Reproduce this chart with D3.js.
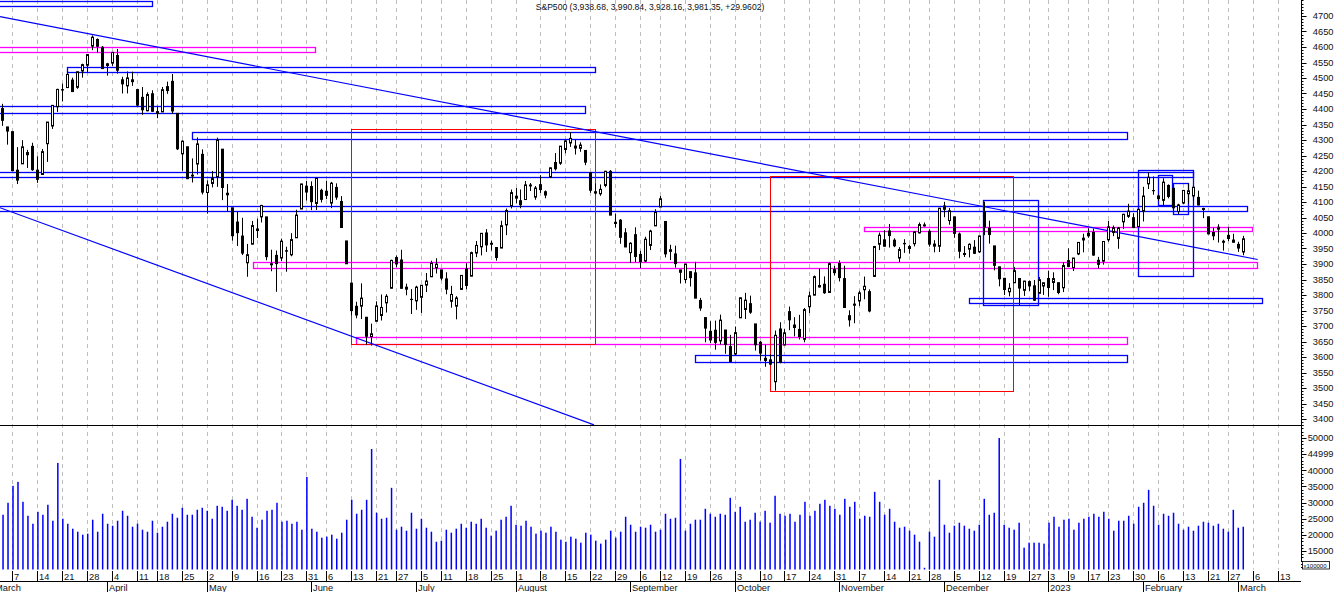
<!DOCTYPE html>
<html>
<head>
<meta charset="utf-8">
<script src="https://cdn.jsdelivr.net/npm/d3@7"></script>
<style>
body { margin: 0; background: #fff; }
svg { display: block; font-family: "Liberation Sans", Arial, sans-serif; }
</style>
</head>
<body>
<div id="container"></div>
<script>
// daily bars, 2022-03-03 .. 2023-03-02 (one per trading day, as on the chart)
const opens = [
  4401.31, 4342.12,
  4327.01, 4202.66, 4223.10, 4252.55, 4279.50,
  4202.75, 4188.82, 4288.14, 4345.11, 4407.34,
  4462.40, 4469.10, 4493.10, 4469.98, 4522.66,
  4541.09, 4602.86, 4624.20, 4599.02, 4540.32,
  4547.97, 4572.45, 4494.17, 4474.65, 4494.15,
  4462.64, 4437.59, 4394.30, 4449.12,
  4385.63, 4390.63, 4472.26, 4489.17, 4385.83,
  4255.34, 4278.14, 4186.52, 4222.58, 4253.75,
  4130.61, 4159.78, 4181.18, 4270.43, 4128.17,
  4081.27, 4035.18, 3990.08, 3903.95, 3963.90,
  4013.02, 4052.00, 4051.98, 3899.00, 3927.76,
  3919.42, 3942.94, 3929.59, 3984.60, 4077.43,
  4151.09, 4149.78, 4095.41, 4137.57,
  4134.72, 4096.47, 4147.12, 4101.65, 3974.39,
  3838.15, 3763.52, 3764.05, 3728.18, 3665.90,
  3715.31, 3733.89, 3774.71, 3821.75,
  3920.76, 3913.00, 3825.09, 3785.99, 3781.00,
  3792.61, 3831.98, 3858.85, 3888.26,
  3880.94, 3851.95, 3779.67, 3763.99, 3818.00,
  3883.79, 3860.73, 3935.32, 3955.47, 4000.20,
  3965.72, 3953.22, 3951.43, 4026.13, 4087.33,
  4112.38, 4104.21, 4107.96, 4154.85, 4115.87,
  4155.93, 4133.11, 4181.02, 4227.40, 4225.02,
  4269.37, 4290.46, 4280.40, 4273.13, 4266.31,
  4195.08, 4133.09, 4126.55, 4153.26, 4198.74,
  4034.58, 4041.25, 4000.67, 3936.73, 3994.66,
  3930.89, 3909.43, 3959.94, 4022.94,
  4083.67, 4037.12, 3940.73, 3932.41, 3880.95,
  3849.91, 3875.23, 3871.40, 3782.36, 3727.14,
  3682.72, 3686.44, 3651.94, 3687.01, 3633.48,
  3609.78, 3726.46, 3753.25, 3771.97, 3706.74,
  3647.51, 3595.86, 3590.83, 3520.37, 3690.41,
  3638.65, 3746.26, 3703.11, 3689.05, 3657.10,
  3762.01, 3799.44, 3825.97, 3834.69, 3808.26,
  3881.85, 3901.79, 3852.90, 3733.25, 3766.98,
  3780.71, 3817.02, 3810.94, 3859.89, 3963.72,
  3977.97, 4006.41, 3976.82, 3919.26, 3966.39,
  3956.23, 3965.51, 4000.30, 4023.34,
  4005.36, 3964.19, 3957.18, 4087.14, 4040.17,
  4052.02, 3996.63, 3933.28, 3947.79, 3954.17,
  3939.29, 4069.38, 4015.54, 3958.37, 3890.91,
  3853.79, 3810.47, 3839.49, 3853.26, 3815.11,
  3843.34, 3829.56, 3805.45, 3829.06,
  3853.29, 3840.36, 3839.74, 3823.37,
  3910.82, 3888.57, 3932.35, 3977.57,
  3999.28, 4002.25, 3911.84, 3909.04,
  3978.14, 4001.74, 3982.71, 4036.08, 4053.72,
  4049.27, 4020.85, 4070.07, 4158.68, 4136.69,
  4119.57, 4105.35, 4153.47, 4144.25, 4068.92,
  4096.62, 4126.70, 4119.50, 4114.75, 4077.39,
  4052.35, 4001.83, 4018.60, 3973.24,
  3992.36, 3977.19, 3963.34, 3938.68
];
const highs = [
  4416.78, 4342.12,
  4327.01, 4276.94, 4299.40, 4268.28, 4291.01,
  4247.57, 4271.05, 4357.86, 4412.67, 4465.40,
  4481.75, 4522.00, 4501.07, 4520.58, 4546.03,
  4575.65, 4637.30, 4627.77, 4603.07, 4548.70,
  4583.50, 4593.45, 4503.94, 4521.16, 4520.41,
  4464.35, 4471.00, 4453.92, 4460.46,
  4410.31, 4471.03, 4488.29, 4512.94, 4385.83,
  4299.02, 4278.14, 4240.71, 4308.45, 4269.68,
  4169.81, 4200.10, 4307.66, 4270.43, 4157.69,
  4081.27, 4068.82, 4049.09, 3964.80, 4038.88,
  4046.46, 4090.72, 4051.98, 3945.96, 3943.42,
  3981.88, 3955.68, 3999.33, 4075.14, 4158.49,
  4168.34, 4166.54, 4177.51, 4142.67,
  4168.78, 4164.86, 4160.14, 4119.10, 3974.39,
  3838.15, 3778.18, 3837.56, 3728.18, 3707.71,
  3779.65, 3801.79, 3802.58, 3913.65,
  3927.72, 3945.86, 3836.50, 3818.99, 3829.82,
  3832.19, 3870.91, 3910.63, 3918.50,
  3880.94, 3873.41, 3829.44, 3796.41, 3863.62,
  3902.44, 3939.81, 3974.13, 3999.29, 4012.44,
  3975.30, 3953.22, 4039.56, 4078.95, 4140.15,
  4144.95, 4140.47, 4167.66, 4161.29, 4151.58,
  4186.62, 4137.30, 4211.03, 4257.91, 4280.47,
  4301.79, 4325.28, 4302.18, 4292.53, 4266.31,
  4195.08, 4159.77, 4156.56, 4200.54, 4203.04,
  4062.99, 4044.98, 4015.37, 3970.23, 4018.43,
  3942.55, 3987.89, 4010.50, 4076.81,
  4119.28, 4037.12, 3961.94, 3959.14, 3880.95,
  3900.45, 3876.01, 3907.07, 3790.78, 3727.14,
  3715.67, 3717.53, 3736.74, 3687.01, 3671.44,
  3698.35, 3791.92, 3806.91, 3797.93, 3706.74,
  3652.17, 3640.66, 3608.34, 3685.41, 3712.00,
  3689.73, 3762.79, 3728.58, 3736.00, 3757.89,
  3810.74, 3862.85, 3886.15, 3859.95, 3905.42,
  3893.73, 3911.79, 3894.44, 3750.59, 3796.34,
  3813.95, 3859.40, 3818.20, 3958.33, 4001.48,
  4008.97, 4028.84, 3983.09, 3954.33, 3979.89,
  3962.00, 4005.88, 4033.78, 4034.02,
  4012.27, 3976.77, 4080.11, 4100.51, 4080.48,
  4052.45, 4001.51, 3957.57, 3966.65, 3977.02,
  3990.71, 4100.96, 4039.84, 3958.37, 3890.91,
  3854.86, 3838.24, 3889.82, 3853.26, 3845.80,
  3846.65, 3848.32, 3858.19, 3839.85,
  3878.46, 3873.16, 3839.74, 3906.19,
  3950.57, 3919.83, 3970.07, 3997.76,
  4015.39, 4014.16, 3922.94, 3972.96,
  4039.31, 4023.92, 4019.55, 4061.57, 4094.21,
  4063.85, 4077.16, 4148.95, 4195.44, 4182.36,
  4124.63, 4176.54, 4156.85, 4156.23, 4094.36,
  4138.90, 4159.77, 4148.11, 4136.54, 4081.51,
  4052.35, 4017.37, 4028.30, 3978.25,
  4018.05, 3997.50, 3971.73, 3990.84
];
const lows = [
  4345.56, 4284.98,
  4199.85, 4157.87, 4223.10, 4209.80, 4200.49,
  4161.72, 4187.90, 4229.34, 4335.65, 4390.57,
  4424.30, 4469.10, 4455.81, 4465.17, 4501.07,
  4517.69, 4589.66, 4581.32, 4530.41, 4507.57,
  4539.21, 4514.17, 4450.04, 4450.30, 4474.60,
  4408.38, 4381.34, 4392.70, 4390.77,
  4370.30, 4390.63, 4448.76, 4384.47, 4267.62,
  4200.82, 4175.04, 4162.90, 4188.63, 4124.28,
  4062.51, 4147.08, 4148.91, 4106.01, 4067.91,
  3975.48, 3958.17, 3928.82, 3858.87, 3963.90,
  3983.99, 4033.93, 3911.91, 3876.58, 3810.32,
  3909.04, 3875.13, 3925.03, 3984.60, 4077.43,
  4104.88, 4073.85, 4074.37, 4098.67,
  4109.18, 4080.19, 4107.20, 4017.17, 3900.16,
  3734.30, 3724.87, 3722.30, 3639.77, 3636.87,
  3715.31, 3717.69, 3743.52, 3821.75,
  3889.66, 3820.14, 3799.02, 3738.67, 3752.10,
  3742.06, 3809.37, 3858.85, 3869.34,
  3847.22, 3802.36, 3759.07, 3721.56, 3817.18,
  3818.63, 3860.73, 3922.03, 3927.64, 3938.85,
  3943.46, 3910.74, 3951.43, 3992.97, 4079.22,
  4096.02, 4079.81, 4107.96, 4135.42, 4107.31,
  4128.97, 4112.09, 4177.26, 4201.41, 4219.78,
  4256.90, 4277.77, 4253.08, 4261.98, 4218.70,
  4129.86, 4124.03, 4119.97, 4147.59, 4057.66,
  4017.42, 3965.21, 3954.53, 3903.65, 3906.21,
  3886.75, 3906.03, 3944.81, 4022.94,
  4083.67, 3921.19, 3912.57, 3888.28, 3837.08,
  3838.50, 3827.54, 3789.49, 3749.02, 3647.47,
  3644.76, 3623.29, 3640.61, 3610.40, 3584.13,
  3604.93, 3726.46, 3722.66, 3739.22, 3620.73,
  3588.10, 3568.45, 3573.86, 3491.58, 3579.68,
  3638.65, 3686.53, 3666.51, 3656.44, 3647.42,
  3741.65, 3799.44, 3824.07, 3803.79, 3808.26,
  3863.18, 3843.80, 3758.68, 3698.15, 3708.84,
  3764.70, 3786.28, 3744.22, 3859.89, 3944.82,
  3956.40, 3953.17, 3954.34, 3906.54, 3935.98,
  3933.34, 3956.88, 3998.66, 4020.76,
  3955.77, 3937.65, 3938.58, 4050.87, 4026.63,
  3984.49, 3918.39, 3922.68, 3921.30, 3933.04,
  3935.30, 3993.03, 3965.65, 3879.45, 3827.91,
  3800.04, 3795.62, 3839.49, 3764.49, 3797.01,
  3813.22, 3780.78, 3805.45, 3800.34,
  3794.33, 3815.77, 3802.42, 3809.56,
  3890.42, 3877.29, 3928.54, 3937.56,
  3984.57, 3926.59, 3885.54, 3897.86,
  3971.64, 3989.79, 3949.06, 4013.29, 4048.70,
  4015.55, 4020.44, 4037.20, 4141.88, 4123.36,
  4103.98, 4088.39, 4111.67, 4069.67, 4060.79,
  4092.67, 4095.01, 4103.98, 4089.49, 4047.95,
  3995.19, 3976.90, 3969.19, 3943.08,
  3973.55, 3968.98, 3939.05, 3928.16
];
const closes = [
  4363.49, 4328.87,
  4201.09, 4170.70, 4277.88, 4259.52, 4204.31,
  4173.11, 4262.45, 4357.86, 4411.67, 4463.12,
  4461.18, 4511.61, 4456.24, 4520.16, 4543.06,
  4575.52, 4631.60, 4602.45, 4530.41, 4545.86,
  4582.64, 4525.12, 4481.15, 4500.21, 4488.28,
  4412.53, 4397.45, 4446.59, 4392.59,
  4391.69, 4462.21, 4459.45, 4393.66, 4271.78,
  4296.12, 4175.20, 4183.96, 4287.50, 4131.93,
  4155.38, 4175.48, 4300.17, 4146.87, 4123.34,
  3991.24, 4001.05, 3935.18, 3930.08, 4023.89,
  4008.01, 4088.85, 3923.68, 3900.79, 3901.36,
  3973.75, 3941.48, 3978.73, 4057.84, 4158.24,
  4132.15, 4101.23, 4176.82, 4108.54,
  4121.43, 4160.68, 4115.77, 4017.82, 3900.86,
  3749.63, 3735.48, 3789.99, 3666.77, 3674.84,
  3764.79, 3759.89, 3795.73, 3911.74,
  3900.11, 3821.55, 3818.83, 3785.38, 3825.33,
  3831.39, 3845.08, 3902.62, 3899.38,
  3854.43, 3818.80, 3801.78, 3790.38, 3863.16,
  3830.85, 3936.69, 3959.90, 3998.95, 3961.63,
  3966.84, 3921.05, 4023.61, 4072.43, 4130.29,
  4118.63, 4091.19, 4155.17, 4151.94, 4145.19,
  4140.06, 4122.47, 4210.24, 4207.27, 4280.15,
  4297.14, 4305.20, 4274.04, 4283.74, 4228.48,
  4137.99, 4128.73, 4140.77, 4199.12, 4057.66,
  4030.61, 3986.16, 3955.00, 3966.85, 3924.26,
  3908.19, 3979.87, 4006.18, 4067.36,
  4110.41, 3932.69, 3946.01, 3901.35, 3873.33,
  3899.89, 3855.93, 3789.93, 3757.99, 3693.23,
  3655.04, 3647.29, 3719.04, 3640.47, 3585.62,
  3678.43, 3790.93, 3783.28, 3744.52, 3639.66,
  3612.39, 3588.84, 3577.03, 3669.91, 3583.07,
  3677.95, 3719.98, 3695.16, 3665.78, 3752.75,
  3797.34, 3859.11, 3830.60, 3807.30, 3901.06,
  3871.98, 3856.10, 3759.69, 3719.89, 3770.55,
  3806.80, 3828.11, 3748.57, 3956.37, 3992.93,
  3957.25, 3991.73, 3958.79, 3946.56, 3965.34,
  3949.94, 4003.58, 4027.26, 4026.12,
  3963.94, 3957.63, 4080.11, 4076.57, 4071.70,
  3998.84, 3941.26, 3933.92, 3963.51, 3934.38,
  3990.56, 4019.65, 3995.32, 3895.75, 3852.36,
  3817.66, 3821.62, 3878.44, 3822.39, 3844.82,
  3829.25, 3783.22, 3849.28, 3839.50,
  3824.14, 3852.97, 3808.10, 3895.08,
  3892.09, 3919.25, 3969.61, 3983.17,
  3990.97, 3928.86, 3898.85, 3972.61,
  4019.81, 4016.95, 4016.22, 4060.43, 4070.56,
  4017.77, 4076.60, 4119.21, 4179.76, 4136.48,
  4111.08, 4164.00, 4117.86, 4081.50, 4090.46,
  4137.29, 4136.13, 4147.60, 4090.41, 4079.09,
  3997.34, 3991.05, 4012.32, 3970.04,
  3982.24, 3970.15, 3951.39, 3981.35
];
// volume, in units of 100000
const volumes = [
  26230, 29930, 35180, 36420, 30240, 25920, 23450, 27150, 26230, 29320,
  24380, 42280, 24990, 23450, 21910, 20980, 20060, 20370, 24690, 20980,
  26540, 23450, 22830, 24380, 27460, 25920, 22520, 23450, 21600, 20980,
  24380, 20670, 22520, 24070, 26540, 25300, 28390, 26230, 26230, 27770,
  28390, 27460, 24990, 29010, 28700, 27460, 30860, 29010, 27770, 31170,
  25610, 22210, 24690, 27460, 27770, 29930, 24070, 24380, 23450, 24070,
  21600, 37960, 21910, 20980, 19130, 19440, 20060, 18820, 20670, 24690,
  30860, 26540, 27770, 30860, 46600, 26850, 24990, 25300, 34560, 21600,
  22520, 21290, 26850, 21910,
  24990, 22210, 20980, 17870, 18200, 21600, 20670, 21910, 23450, 22210,
  24070, 23450, 24990, 22210, 19750, 21290, 24690, 25610, 29010, 23140,
  22830, 24380, 22520, 20370, 21290, 20670, 22520, 20980, 18510, 17870,
  19440, 18820, 17580, 20670, 20060, 18200, 17280, 18510, 21290, 19130,
  20980, 25610, 23140, 20980, 22520, 22210, 23140, 20980, 21600, 26540,
  24990, 25300, 43520, 21290, 23450, 24690, 24690, 28080, 26540, 25610,
  26540, 26230, 31480, 27150, 28700, 24070, 24690, 26850, 24070, 27460,
  23760, 32100, 26540, 25920, 26540, 24070, 26230, 30240, 25920, 27460,
  29630, 30860, 29010, 28080,
  26230, 31170, 28700, 30240, 24990, 25920, 25610, 33330, 30240, 26230,
  28080, 24070, 22210, 22520, 21290, 20060, 17890, 9800, 20980, 19440,
  37030, 23140, 20670, 22830, 23760, 22830, 21910, 21290, 23140, 31170,
  26230, 26850, 50000, 23140, 22210, 21600, 23760, 16040, 17580, 17580,
  17580, 17280, 23760, 25610, 22520, 24690, 24990, 21600, 23760, 24990,
  25610, 26540, 25610, 27150, 24990, 21290, 24380, 24380, 25920, 23450,
  28700, 29930, 33950, 29010, 23140, 26540, 25920, 26850, 23450, 21600,
  22520, 21290, 22830, 24070, 23760, 22830, 23450, 21910, 20980, 27760,
  22210, 22520
];

// bottom axis: week start labels and month labels, with the bar slot they sit on
const weekLabels = ["7","14","21","28","4","11","18","25","2","9","16","23","31","6","13","21","27",
  "5","11","18","25","1","8","15","22","29","6","12","19","26","3","10","17","24","31",
  "7","14","21","28","5","12","19","27","3","9","17","23","30","6","13","21","27","6","13"];
const weekSlots = [2,7,12,17,22,27,31,36,41,46,51,56,61,65,70,75,79,
  84,88,93,98,103,108,113,118,123,128,132,137,142,147,152,157,162,167,
  172,177,182,186,191,196,201,206,210,214,218,222,227,232,237,242,246,251,256];
const monthLabels = ["March","April","May","June","July","August","September","October",
  "November","December","2023","February","March"];
const monthSlots = [-2,21,41,62,83,103,126,147,168,189,210,229,248];

const priceTicks = [3400,3450,3500,3550,3600,3650,3700,3750,3800,3850,3900,3950,4000,4050,
  4100,4150,4200,4250,4300,4350,4400,4450,4500,4550,4600,4650,4700];
const volumeTicks = [15000,20000,25000,30000,35000,40000,45000,50000];
const volumeTickLabels = ["15000","20000","25000","30000","35000","40000","44999","50000"];

// drawn levels and boxes: [slot from, slot to, price top, price bottom, kind]
const boxes = [
  [-3, 29.95, 4748.4, 4732.3, "blue"],
  [-3, 62.7, 4600.0, 4584.8, "magenta"],
  [13.0, 118.95, 4534.5, 4518.4, "blue"],
  [-3, 116.9, 4408.7, 4386.1, "blue"],
  [38.1, 225.8, 4324.8, 4302.3, "blue"],
  [-3, 238.95, 4195.8, 4179.7, "blue"],
  [-3, 249.9, 4086.1, 4070.0, "blue"],
  [173.0, 250.9, 4018.4, 4005.5, "magenta"],
  [50.3, 251.9, 3905.5, 3886.1, "magenta"],
  [194.1, 252.9, 3789.4, 3773.3, "blue"],
  [71.0, 225.8, 3663.6, 3641.0, "magenta"],
  [139.1, 225.8, 3605.5, 3582.9, "blue"],
  [70.0, 119.0, 4334.5, 3641.0, "red"],
  [154.1, 202.9, 4184.8, 3490.3, "red"],
  [196.85, 207.9, 4105.5, 3767.7, "blue"],
  [228.0, 238.95, 4202.3, 3860.3, "blue"],
  [232.05, 234.9, 4186.1, 4089.4, "blue"],
  [235.05, 237.95, 4160.3, 4060.3, "blue"]
];
// trend lines: [slot, price, slot, price]
const trendLines = [
  [-0.5, 4697.7, 252.0, 3914.5],
  [-0.5, 4081.6, 118.75, 3381.0]
];

const title = "S&P500 (3,938.68, 3,990.84, 3,928.16, 3,981.35, +29.9602)";

const width = 1336, height = 592;
const plotRight = 1301;
const priceBottom = 425, volBottom = 569.5, axisLine = 581;
const strokes = { blue: "#0000ff", magenta: "#ff00ff", red: "#ff0000" };

let x = d3.scaleLinear().domain([-0.5, 260.5]).range([0, 1300]);
let y = d3.scaleLinear().domain([3400, 4700]).range([419, 16]);
let vy = d3.scaleLinear().domain([15000, 50000]).range([551, 438]);
let px = i => Math.round(x(i));
let snap = v => Math.round(v) + 0.5;

let svg = d3.select("#container").append("svg")
    .attr("width", width)
    .attr("height", height);

svg.append("defs").append("clipPath").attr("id", "clipMain")
  .append("rect").attr("x", 0).attr("y", 0).attr("width", plotRight).attr("height", priceBottom);

// weekly dashed grid
svg.append("g").selectAll("line")
    .data(weekSlots)
    .enter().append("line")
    .attr("x1", d => px(d) + 0.5).attr("x2", d => px(d) + 0.5)
    .attr("y1", 0).attr("y2", volBottom)
    .attr("stroke", "#bdbdbd")
    .attr("stroke-dasharray", "4,4");

// levels, boxes and trend lines
let drawn = svg.append("g").attr("clip-path", "url(#clipMain)");
drawn.selectAll("rect")
    .data(boxes)
    .enter().append("rect")
    .attr("x", d => snap(x(d[0])))
    .attr("y", d => snap(y(d[2])))
    .attr("width", d => snap(x(d[1])) - snap(x(d[0])))
    .attr("height", d => snap(y(d[3])) - snap(y(d[2])))
    .attr("fill", "none")
    .attr("stroke", d => strokes[d[4]])
    .attr("stroke-width", d => d[4] == "red" ? 1 : 1.3);
drawn.selectAll("line")
    .data(trendLines)
    .enter().append("line")
    .attr("x1", d => x(d[0])).attr("y1", d => y(d[1]))
    .attr("x2", d => x(d[2])).attr("y2", d => y(d[3]))
    .attr("stroke", strokes.blue)
    .attr("stroke-width", 1.2);

// candles
let bars = closes.map((c, i) => ({ i: i, o: opens[i], h: highs[i], l: lows[i], c: c }));
let candles = svg.append("g").attr("clip-path", "url(#clipMain)");
candles.selectAll("line")
    .data(bars)
    .enter().append("line")
    .attr("x1", d => px(d.i) + 0.5).attr("x2", d => px(d.i) + 0.5)
    .attr("y1", d => y(d.h)).attr("y2", d => y(d.l))
    .attr("stroke", "#000")
    .attr("stroke-width", 1);
candles.selectAll("rect")
    .data(bars)
    .enter().append("rect")
    .attr("x", d => d.c >= d.o ? px(d.i) - 0.5 : px(d.i) - 1)
    .attr("width", d => d.c >= d.o ? 2 : 3)
    .attr("y", d => y(Math.max(d.o, d.c)) - (d.c >= d.o ? 0 : 0.5))
    .attr("height", d => Math.max(1, Math.abs(y(d.o) - y(d.c)) + (d.c >= d.o ? 0 : 1)))
    .attr("fill", d => d.c >= d.o ? "#fff" : "#000")
    .attr("stroke", d => d.c >= d.o ? "#000" : "none")
    .attr("stroke-width", 1);

// volume
svg.append("g").selectAll("rect")
    .data(volumes)
    .enter().append("rect")
    .attr("x", (d, i) => x(i) - 0.2)
    .attr("width", 1.5)
    .attr("y", d => vy(d))
    .attr("height", d => Math.max(0, volBottom - vy(d)))
    .attr("fill", "#0000ff");

// frame lines
svg.append("line")
    .attr("x1", 0).attr("x2", plotRight + 0.5)
    .attr("y1", priceBottom + 0.5).attr("y2", priceBottom + 0.5)
    .attr("stroke", "#000");
svg.append("line")
    .attr("x1", 0).attr("x2", plotRight)
    .attr("y1", axisLine + 0.5).attr("y2", axisLine + 0.5)
    .attr("stroke", "#000");
svg.append("line")
    .attr("x1", plotRight + 0.5).attr("x2", plotRight + 0.5)
    .attr("y1", 0).attr("y2", 562)
    .attr("stroke", "#000");

// right price axis
let priceAxis = svg.append("g").attr("transform", `translate(${plotRight},0)`);
priceAxis.selectAll(".minor")
    .data(d3.range(3380, 4751, 10))
    .enter().append("line")
    .attr("x1", 0).attr("x2", 2.5)
    .attr("y1", d => Math.round(y(d)) + 0.5).attr("y2", d => Math.round(y(d)) + 0.5)
    .attr("stroke", "#000");
priceAxis.selectAll(".major")
    .data(priceTicks)
    .enter().append("line")
    .attr("x1", 0).attr("x2", 5.5)
    .attr("y1", d => Math.round(y(d)) + 0.5).attr("y2", d => Math.round(y(d)) + 0.5)
    .attr("stroke", "#000");
priceAxis.selectAll("text")
    .data(priceTicks)
    .enter().append("text")
    .attr("x", 32.5)
    .attr("y", d => y(d) + 3.3)
    .attr("text-anchor", "end")
    .style("font-size", "9.3px")
    .attr("fill", "#111")
    .text(d => d);

// right volume axis
let volAxis = svg.append("g").attr("transform", `translate(${plotRight},0)`);
volAxis.selectAll(".minor")
    .data(d3.range(10000, 54001, 1000))
    .enter().append("line")
    .attr("x1", 0).attr("x2", 2.5)
    .attr("y1", d => Math.round(vy(d)) + 0.5).attr("y2", d => Math.round(vy(d)) + 0.5)
    .attr("stroke", "#000");
volAxis.selectAll(".major")
    .data(volumeTicks)
    .enter().append("line")
    .attr("x1", 0).attr("x2", 5.5)
    .attr("y1", d => Math.round(vy(d)) + 0.5).attr("y2", d => Math.round(vy(d)) + 0.5)
    .attr("stroke", "#000");
volAxis.selectAll("text")
    .data(volumeTicks)
    .enter().append("text")
    .attr("x", 32.5)
    .attr("y", d => vy(d) + 3.3)
    .attr("text-anchor", "end")
    .style("font-size", "9.3px")
    .attr("fill", "#111")
    .text((d, i) => volumeTickLabels[i]);
volAxis.append("rect")
    .attr("x", 1.5).attr("y", 561.5).attr("width", 27).attr("height", 7.5)
    .attr("fill", "#fff").attr("stroke", "#000").attr("stroke-width", 0.8);
volAxis.append("text")
    .attr("x", 2.5).attr("y", 567.5)
    .style("font-size", "6px")
    .text("x100000");

// bottom date axis
let dateAxis = svg.append("g");
dateAxis.selectAll(".wk")
    .data(weekSlots)
    .enter().append("line")
    .attr("x1", d => px(d) + 0.5).attr("x2", d => px(d) + 0.5)
    .attr("y1", 571).attr("y2", axisLine)
    .attr("stroke", "#000");
dateAxis.selectAll(".wklabel")
    .data(weekSlots)
    .enter().append("text")
    .attr("x", d => px(d) + 2)
    .attr("y", 579.5)
    .style("font-size", "9.3px")
    .attr("fill", "#111")
    .text((d, i) => weekLabels[i]);
dateAxis.selectAll(".mo")
    .data(monthSlots)
    .enter().append("line")
    .attr("x1", d => px(d) + 0.5).attr("x2", d => px(d) + 0.5)
    .attr("y1", axisLine).attr("y2", height)
    .attr("stroke", "#000");
dateAxis.selectAll(".molabel")
    .data(monthSlots)
    .enter().append("text")
    .attr("x", d => px(d) + 2)
    .attr("y", 591)
    .style("font-size", "9.3px")
    .attr("fill", "#111")
    .text((d, i) => monthLabels[i]);

svg.append("text")
    .attr("x", 650)
    .attr("y", 9.5)
    .attr("text-anchor", "middle")
    .style("font-size", "8.6px")
    .attr("fill", "#111")
    .text(title);
</script>
</body>
</html>
